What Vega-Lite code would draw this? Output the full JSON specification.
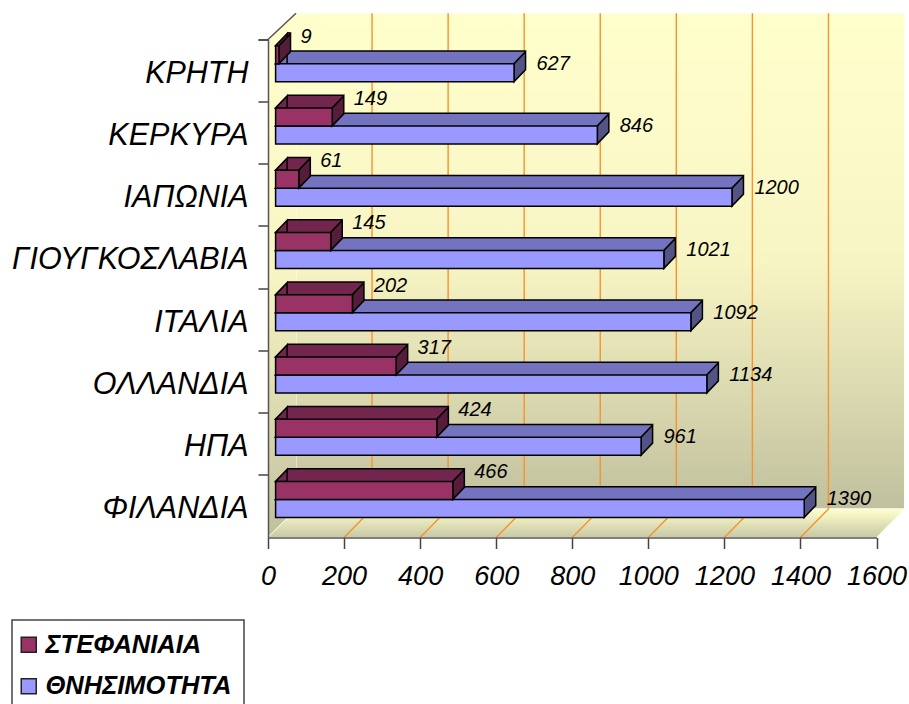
{
"$schema":"https://vega.github.io/schema/vega-lite/v6.json",
"width":608.5,"height":498,
"autosize":"none",
"padding":{"left":268,"top":39.5,"right":32.5,"bottom":166.5},
"background":"white",
"config":{"view":{"stroke":null},"font":"Liberation Sans","legend":{"strokeWidth":1.5}},
"datasets":{
"rows":[
{"c":"ΚΡΗΤΗ","s":"ΣΤΕΦΑΝΙΑΙΑ","v":9},{"c":"ΚΡΗΤΗ","s":"ΘΝΗΣΙΜΟΤΗΤΑ","v":627},
{"c":"ΚΕΡΚΥΡΑ","s":"ΣΤΕΦΑΝΙΑΙΑ","v":149},{"c":"ΚΕΡΚΥΡΑ","s":"ΘΝΗΣΙΜΟΤΗΤΑ","v":846},
{"c":"ΙΑΠΩΝΙΑ","s":"ΣΤΕΦΑΝΙΑΙΑ","v":61},{"c":"ΙΑΠΩΝΙΑ","s":"ΘΝΗΣΙΜΟΤΗΤΑ","v":1200},
{"c":"ΓΙΟΥΓΚΟΣΛΑΒΙΑ","s":"ΣΤΕΦΑΝΙΑΙΑ","v":145},{"c":"ΓΙΟΥΓΚΟΣΛΑΒΙΑ","s":"ΘΝΗΣΙΜΟΤΗΤΑ","v":1021},
{"c":"ΙΤΑΛΙΑ","s":"ΣΤΕΦΑΝΙΑΙΑ","v":202},{"c":"ΙΤΑΛΙΑ","s":"ΘΝΗΣΙΜΟΤΗΤΑ","v":1092},
{"c":"ΟΛΛΑΝΔΙΑ","s":"ΣΤΕΦΑΝΙΑΙΑ","v":317},{"c":"ΟΛΛΑΝΔΙΑ","s":"ΘΝΗΣΙΜΟΤΗΤΑ","v":1134},
{"c":"ΗΠΑ","s":"ΣΤΕΦΑΝΙΑΙΑ","v":424},{"c":"ΗΠΑ","s":"ΘΝΗΣΙΜΟΤΗΤΑ","v":961},
{"c":"ΦΙΛΑΝΔΙΑ","s":"ΣΤΕΦΑΝΙΑΙΑ","v":466},{"c":"ΦΙΛΑΝΔΙΑ","s":"ΘΝΗΣΙΜΟΤΗΤΑ","v":1390}
],
"grid":[{"g":200},{"g":400},{"g":600},{"g":800},{"g":1000},{"g":1200},{"g":1400}],
"anchor":[{"g":0}]
},
"data":{"name":"rows"},
"encoding":{
"y":{"field":"c","type":"nominal","title":null,
"scale":{"domain":["ΚΡΗΤΗ","ΚΕΡΚΥΡΑ","ΙΑΠΩΝΙΑ","ΓΙΟΥΓΚΟΣΛΑΒΙΑ","ΙΤΑΛΙΑ","ΟΛΛΑΝΔΙΑ","ΗΠΑ","ΦΙΛΑΝΔΙΑ"],"paddingInner":0,"paddingOuter":0},
"axis":{"bandPosition":0,"tickExtra":true,"tickSize":10,"tickColor":"#444","tickWidth":1.5,"domainColor":"#555","domainWidth":1.5,"labelFont":"Liberation Sans","labelFontStyle":"italic","labelFontSize":30.5,"labelColor":"black","labelPadding":10,"labelOffset":3,"zindex":1,"labelLimit":300}
},
"x":{"type":"quantitative","scale":{"domain":[0,1600],"nice":false},"title":null,
"axis":{"values":[0,200,400,600,800,1000,1200,1400,1600],"format":"d","grid":false,"tickSize":11,"tickColor":"#444","tickWidth":1.5,"domainColor":"#555","domainWidth":1.5,"labelFont":"Liberation Sans","labelFontStyle":"italic","labelFontSize":27,"labelColor":"black","labelPadding":15,"labelFlush":false,"labelOverlap":false,"zindex":1}
}
},
"layer":[
{"data":{"name":"anchor"},"mark":{"type":"point","filled":true,"size":4,"opacity":1,"fill":{"gradient":"linear","x1":0,"y1":0,"x2":0,"y2":1,"stops":[{"offset":0,"color":"#ffffcc"},{"offset":0.5,"color":"#f8f5c4"},{"offset":1,"color":"#c0c09e"}]},"stroke":"#fdfdf2","strokeWidth":1,"shape":"M28,-493.1L636.5,-493.1L636.5,2.6L28,2.6Z"},"encoding":{"x":{"field":"g"},"y":{"datum":"ΦΙΛΑΝΔΙΑ"}}},
{"data":{"name":"anchor"},"mark":{"type":"point","filled":true,"size":4,"opacity":1,"fill":{"gradient":"linear","x1":0,"y1":0,"x2":0,"y2":1,"stops":[{"offset":0,"color":"#ffffcc"},{"offset":0.5,"color":"#f8f5c4"},{"offset":1,"color":"#c0c09e"}]},"shape":"M0,-466.9L28,-493.1L28,2.6L0,31.1Z"},"encoding":{"x":{"field":"g"},"y":{"datum":"ΦΙΛΑΝΔΙΑ"}}},
{"data":{"name":"anchor"},"mark":{"type":"point","filled":true,"size":4,"opacity":1,"fill":{"gradient":"linear","x1":0,"y1":0,"x2":0,"y2":1,"stops":[{"offset":0,"color":"#ffffcc"},{"offset":1,"color":"#c8c8a6"}]},"stroke":"#fdfdf2","strokeWidth":1,"shape":"M0,31.1L608.5,31.1L636.5,2.6L28,2.6Z"},"encoding":{"x":{"field":"g"},"y":{"datum":"ΦΙΛΑΝΔΙΑ"}}},
{"data":{"name":"anchor"},"mark":{"type":"point","filled":false,"size":4,"opacity":1,"stroke":"#555","strokeWidth":1.5,"shape":"M0,-466.9L28,-493.1"},"encoding":{"x":{"field":"g"},"y":{"datum":"ΦΙΛΑΝΔΙΑ"}}},
{"data":{"name":"grid"},"mark":{"type":"point","filled":false,"size":4,"opacity":1,"stroke":"#f7922f","strokeWidth":1.4,"shape":"M28,-493.1L28,2.6L0,31.1"},"encoding":{"x":{"field":"g"},"y":{"datum":"ΦΙΛΑΝΔΙΑ"}}},
{"transform":[{"filter":"datum.s==='ΘΝΗΣΙΜΟΤΗΤΑ'"}],
"layer":[
{"mark":{"type":"bar","height":13.5,"fill":"black","xOffset":19.1,"x2Offset":19.1,"yOffset":-13.75,"y2Offset":-13.75},"encoding":{"x":{"field":"v","stack":null},"x2":{"datum":0}}},
{"mark":{"type":"bar","height":12,"fill":"#7373bf","xOffset":19.1,"x2Offset":19.1,"yOffset":-13,"y2Offset":-13},"encoding":{"x":{"field":"v","stack":null},"x2":{"datum":0}}},
{"mark":{"type":"point","filled":true,"size":4,"opacity":1,"fill":"#7373bf","stroke":"black","strokeWidth":1.5,"xOffset":7.6,"yOffset":2,"shape":"M0,-9L11.5,-21L11.5,-9Z"},"encoding":{"x":{"datum":0}}},
{"mark":{"type":"point","filled":true,"size":4,"opacity":1,"fill":"#535386","stroke":"black","strokeWidth":1.5,"xOffset":7.6,"yOffset":2,"shape":"M0,-9L11.5,-21L11.5,-3L0,9Z"},"encoding":{"x":{"field":"v"}}},
{"mark":{"type":"bar","height":18,"stroke":"black","strokeWidth":1.5,"xOffset":7.6,"x2Offset":7.6,"yOffset":2,"y2Offset":2},"encoding":{"x":{"field":"v","stack":null},"x2":{"datum":0},"fill":{"field":"s","type":"nominal","scale":{"domain":["ΣΤΕΦΑΝΙΑΙΑ","ΘΝΗΣΙΜΟΤΗΤΑ"],"range":["#993366","#9999ff"]},"legend":{"orient":"none","legendX":-256,"legendY":580.5,"title":null,"symbolType":"square","symbolSize":225,"symbolStrokeColor":"#222","symbolStrokeWidth":1.5,"symbolOffset":-8,"labelFont":"Liberation Sans","labelFontStyle":"italic","labelFontWeight":"bold","labelFontSize":25.5,"labelColor":"black","labelLimit":300,"rowPadding":14.5,"labelOffset":4,"padding":12,"strokeColor":"#444","fillColor":"white"}}}},
{"mark":{"type":"text","font":"Liberation Sans","fontStyle":"italic","fontSize":20,"align":"left","color":"black","dx":30,"yOffset":-7},"encoding":{"x":{"field":"v"},"text":{"field":"v","type":"quantitative","format":"d"}}}
]},
{"transform":[{"filter":"datum.s==='ΣΤΕΦΑΝΙΑΙΑ'"}],
"layer":[
{"mark":{"type":"bar","height":13.5,"fill":"black","xOffset":19.1,"x2Offset":19.1,"yOffset":-31.75,"y2Offset":-31.75},"encoding":{"x":{"field":"v","stack":null},"x2":{"datum":0}}},
{"mark":{"type":"bar","height":12,"fill":"#73264d","xOffset":19.1,"x2Offset":19.1,"yOffset":-31,"y2Offset":-31},"encoding":{"x":{"field":"v","stack":null},"x2":{"datum":0}}},
{"mark":{"type":"point","filled":true,"size":4,"opacity":1,"fill":"#73264d","stroke":"black","strokeWidth":1.5,"xOffset":7.6,"yOffset":-16,"shape":"M0,-9L11.5,-21L11.5,-9Z"},"encoding":{"x":{"datum":0}}},
{"mark":{"type":"point","filled":true,"size":4,"opacity":1,"fill":"#561d3a","stroke":"black","strokeWidth":1.5,"xOffset":7.6,"yOffset":-16,"shape":"M0,-9L11.5,-21L11.5,-3L0,9Z"},"encoding":{"x":{"field":"v"}}},
{"mark":{"type":"bar","height":18,"stroke":"black","strokeWidth":1.5,"fill":"#993366","xOffset":7.6,"x2Offset":7.6,"yOffset":-16,"y2Offset":-16},"encoding":{"x":{"field":"v","stack":null},"x2":{"datum":0}}},
{"mark":{"type":"text","font":"Liberation Sans","fontStyle":"italic","fontSize":20,"align":"left","color":"black","dx":29,"yOffset":-34},"encoding":{"x":{"field":"v"},"text":{"field":"v","type":"quantitative","format":"d"}}}
]}
]
}
